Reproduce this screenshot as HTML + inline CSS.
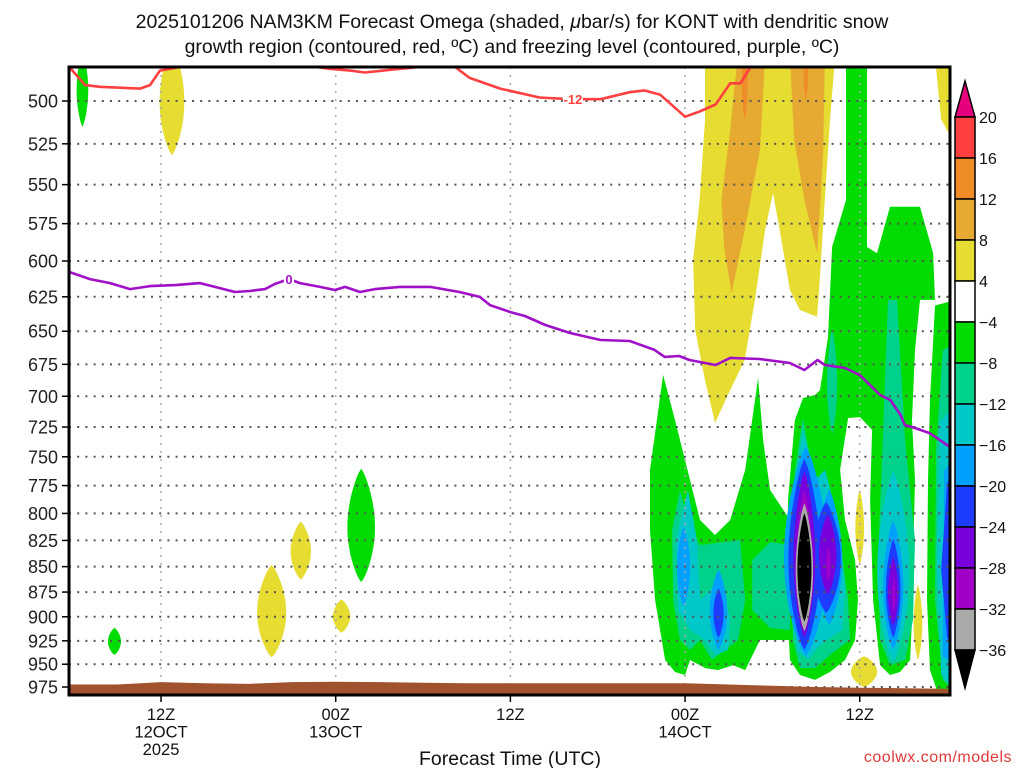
<!DOCTYPE html>
<html><head><meta charset="utf-8">
<style>
html,body{margin:0;padding:0;background:#fff;}
svg{display:block;font-family:"Liberation Sans",sans-serif;}
</style></head>
<body>
<svg id="chart" width="1024" height="768" viewBox="0 0 1024 768" xmlns="http://www.w3.org/2000/svg">
<defs><clipPath id="plotClip"><rect x="69" y="67" width="881" height="628"/></clipPath></defs>
<text x="512" y="28" font-size="19.5" text-anchor="middle" fill="#111">2025101206 NAM3KM Forecast Omega (shaded, <tspan font-style="italic">μ</tspan>bar/s) for KONT with dendritic snow</text>
<text x="512" y="53" font-size="19.5" text-anchor="middle" fill="#111">growth region (contoured, red, ºC) and freezing level (contoured, purple, ºC)</text>
<g id="shade" clip-path="url(#plotClip)"></g>
<g id="grid"></g>
<g id="contours" clip-path="url(#plotClip)"></g>
<g id="ground" clip-path="url(#plotClip)"></g>
<rect x="69" y="67" width="881" height="628" fill="none" stroke="#000" stroke-width="3"/>
<g id="axes"></g>
<g id="cbar"></g>
<text x="510" y="765" font-size="19.5" text-anchor="middle" fill="#111">Forecast Time (UTC)</text>
<text x="1012" y="762" font-size="16" text-anchor="end" fill="#e03a3a" letter-spacing="0.5">coolwx.com/models</text>
</svg>
<script>
// ---- data ----
const pressureTicks=[500,525,550,575,600,625,650,675,700,725,750,775,800,825,850,875,900,925,950,975];
const timeTickHours=[6,18,30,42,54];
const timeTickLine1=["12Z","00Z","12Z","00Z","12Z"];
const timeTickLine2=["12OCT","13OCT","","14OCT",""];
const timeTickLine3=["2025","","","",""];
const cbarLabels=["20","16","12","8","4","−4","−8","−12","−16","−20","−24","−28","−32","−36"];
const cbarColors=["#ff4040","#f08c28","#e6aa32","#e6dc32","#ffffff","#00dc00","#00d28c","#00c8c8","#00a0ff","#1e3cff","#7800dc","#a000c8","#aaaaaa"];
const levelColors={"1":"#e6dc32","2":"#e6aa32","3":"#f08c28","-1":"#00dc00","-2":"#00d28c","-3":"#00c8c8","-4":"#00a0ff","-5":"#1e3cff","-6":"#7800dc","-7":"#a000c8","-8":"#aaaaaa","-9":"#000000"};
// surface pressure every 3 h (0..60)
const sfcHours=[0,3,6,9,12,15,18,21,24,27,30,33,36,39,42,45,48,51,54,57,60];
const sfcPres=[972.2,972.2,969.5,970.8,971.5,969.5,969.2,969.5,970.2,970.8,970.8,970.8,970.8,970.8,970.8,972.2,973.6,975,975.7,976.3,977];
// -12C contour
const m12Hours=[-0.3,0.78,1.8,4.56,5.24,5.93,7.3,8.7,15.6,16.65,17.6,19,20,22.4,23.8,25.2,26.2,27.2,29.3,32,34.1,36.2,38.2,39.2,40.3,42,43,44.1,45.1,45.8,46.5,47.2];
const m12Pres=[481,491,492,493,491,483,481,466,466,481,482,483,484,482,481,473,481,487,493,498,499,499,495,494,496.5,509,506,502,490,490,481,466];
// 0C contour
const frzHours=[-0.3,1.12,2.5,3.87,5.24,7.0,8.68,9.7,11.08,12.11,13.14,13.83,14.79,15.55,16.92,17.95,18.64,19.67,20.7,22.4,24.5,26.5,27.9,28.6,30,31,32.4,34.1,36.2,38.2,39.9,40.6,41.6,42.3,44.1,45.1,47.1,49.2,50.2,51.1,51.6,53,54,54.7,55.4,56.1,56.8,57.1,57.8,58.8,59.5,60.3];
const frzPres=[607.6,612.5,615.3,619.5,617.4,616.7,615.3,618,621.6,620.9,619.5,615.9,612.5,615.3,618,620.2,618,621.6,619.5,618,618,621.6,625.1,630.9,636,638.8,645.4,651.3,656.5,657.3,664,669.3,668.6,671.7,675.5,670.1,670.9,674,679.4,671.7,675.5,677.8,683.3,691,699,703,715,723.3,725.8,730,735.8,742.5];
// lens blobs: [hour, pTop, pBottom, halfWidthHours, level]
const lensBlobs=[
[6.75,469,531.9,0.85,1],[13.6,848.3,942.6,1.0,1],[15.6,807.5,862.7,0.7,1],[18.4,882.4,916.5,0.6,1],
[54.0,778.6,848.3,0.3,1],[58.0,867.6,945.3,0.3,1],[54.3,941.3,975,0.9,1],
[46.1,469,510.7,0.2,3],[50.3,469,500,0.15,3],
[0.6,472.7,515,0.4,-1],[2.8,911.4,940,0.45,-1],[19.75,760.2,865.1,0.95,-1],
[52.1,648.5,730.8,0.35,-2],
[56.3,762.3,947.9,1.1,-3],
[41.9,812.1,889.8,0.45,-4],[44.3,853.1,934.7,0.6,-4],[50.3,741.2,941.3,1.5,-4],[51.9,778.6,908.8,0.9,-4],[56.3,806.4,934.7,0.7,-4],
[44.3,871.3,921.7,0.35,-5],[50.2,751.7,934.7,1.1,-5],[51.7,789.7,896.1,1.0,-5],[56.3,823.6,921.7,0.5,-5],
[50.2,762.3,921.7,0.75,-6],[51.8,800.8,877.4,0.6,-6],[56.3,841.1,908.8,0.35,-6],
[50.2,778.6,908.8,0.55,-7],[51.85,829.4,865.1,0.15,-7],[56.35,859.1,896.1,0.1,-7],[61,817.8,883.6,0.5,-7],
[50.2,790.8,915.2,0.6,-8],
[50.2,799.7,905,0.48,-9]
];
// polygon regions: level, then [hour,pressure] vertices
const polyLevels=[1,1,2,2,-1,-1,-1,-2,-2,-2,-2,-2,-3,-3,-3,-4,-5,-6];
const polyVerts=[
[[43.37,476],[52.3,476],[51.96,510.9],[51.6,559.7],[51.3,606.3],[51.07,639.5],[49.9,634.5],[49.2,620.2],[48.5,579.2],[48.04,555.3],[47.5,579.2],[46.8,627.2],[46.1,671.7],[45.1,695.1],[44.06,721.6],[43.37,687.2],[42.7,649.1],[42.55,599.4],[43.0,559.7],[43.37,510.9]],
[[59.17,476],[61,476],[61,532.6],[59.6,510.7]],
[[45.6,476],[47.5,476],[47.15,528.7],[46.1,579.2],[45.2,622.3],[44.7,592.6],[44.5,559.7],[45.1,516.8]],
[[49.2,476],[51.6,476],[51.5,528.7],[51.3,559.7],[51.07,594.6],[50.2,559.7],[49.5,522.7]],
[[39.59,761.3],[40.49,683.2],[41.31,719.2],[42.34,770.1],[43.03,806],[44.06,819.9],[45.1,806],[46.13,761.3],[47.02,685.5],[47.36,735.8],[47.84,778.9],[49.21,806],[49.21,924.1],[47.15,924.1],[46.13,956.4],[45.3,951.1],[44.26,956.4],[43.37,954.1],[42.34,945.4],[42.0,961.7],[41.31,958.5],[40.63,945.4],[39.94,883],[39.59,815.3]],
[[53.06,476],[54.5,476],[54.5,590.5],[55.19,594.6],[56.08,564.1],[58.14,564.1],[59.04,594.6],[59.17,627.2],[58.14,627.2],[57.8,664],[57.59,719.2],[57.8,770.1],[57.66,843.6],[57.59,903.3],[57.46,945.4],[56.77,958.5],[56.08,961.7],[55.4,951.1],[54.92,883],[54.71,787.8],[54.85,727.4],[54.02,716.8],[53.2,717.6],[52.65,761.3],[52.99,806],[53.68,843.6],[53.88,883],[53.68,924.1],[52.99,945.4],[51.96,958.5],[50.93,967.1],[49.9,961.7],[49.21,945.4],[49.0,883],[49.07,787.8],[49.55,719.2],[50.1,701.4],[50.93,699],[51.27,695.1],[51.82,654.4],[52.1,590.5],[53.06,559.7]],
[[59.17,631.2],[61,626.1],[61,988.7],[59.3,978.5],[58.83,956.4],[58.62,883],[58.69,770.1],[58.83,703.1]],
[[41.65,778.9],[42.34,815.3],[43.03,829.3],[45.78,824.6],[46.13,883],[45.65,924.1],[44.74,934.7],[43.85,945.4],[43.03,924.1],[42.34,934.7],[41.65,924.1],[41.18,883],[41.11,815.3]],
[[46.61,843.6],[47.84,826.5],[49.21,829.3],[49.21,913.7],[47.84,911.6],[46.61,893.1]],
[[50.1,717.6],[50.73,761.3],[51.96,787.8],[52.65,824.6],[53.2,883],[53.33,924.1],[51.96,940.1],[50.93,954.1],[49.9,954.1],[49.41,924.1],[49.21,843.6],[49.55,761.3]],
[[55.94,627.2],[56.56,627.2],[57.12,735.8],[57.8,824.6],[57.66,903.3],[57.12,945.4],[56.08,951.1],[55.4,924.1],[55.26,843.6],[55.53,752.8]],
[[59.7,664.2],[61,656.8],[61,988.7],[59.7,966.7],[59.17,883],[59.24,744.3]],
[[42.2,778.9],[42.82,824.6],[43.03,883],[44.4,863.1],[45.1,903.3],[44.96,934.7],[44.06,940.1],[43.37,924.1],[42.34,913.7],[41.52,893.1],[41.38,824.6]],
[[50.1,727.4],[50.93,770.1],[51.62,761.3],[52.51,806],[52.99,873],[52.79,913.7],[51.27,929.4],[50.45,945.4],[49.69,934.7],[49.41,843.6],[49.69,761.3]],
[[59.5,720.6],[61,700.7],[61,988.7],[59.6,961.3],[59.3,853.1]],
[[59.8,762.3],[61,741.2],[61,954.6],[59.7,941.3]],
[[60,773.1],[61,751.7],[61,941.3],[60,921.7],[59.6,853.1]],
[[60.1,795.2],[61,784.1],[61,915.2],[60.2,902.4]]
];
// ---- axis functions (log-pressure vertical axis) ----
const X0=73.7, XS=14.556, Y0=101, YK=877.5;
function xOf(h){return X0+h*XS;}
function yOf(p){return Y0+YK*Math.log(p/500);}
const NS="http://www.w3.org/2000/svg";
function mk(tag,attrs,parent){const e=document.createElementNS(NS,tag);for(const k in attrs)e.setAttribute(k,attrs[k]);parent.appendChild(e);return e;}
function lensPts(b){const pts=[];const n=24;
 for(let i=0;i<=n;i++){const t=i/n;const p=b[1]+(b[2]-b[1])*t;const w=b[3]*Math.pow(Math.sin(Math.PI*t),0.75);pts.push([b[0]+w,p]);}
 for(let i=n;i>=0;i--){const t=i/n;const p=b[1]+(b[2]-b[1])*t;const w=b[3]*Math.pow(Math.sin(Math.PI*t),0.75);pts.push([b[0]-w,p]);}
 return pts;}
function ptsStr(v){return v.map(q=>xOf(q[0]).toFixed(1)+","+yOf(q[1]).toFixed(1)).join(" ");}
const shade=document.getElementById("shade");
const items=[];
polyVerts.forEach((v,i)=>items.push({lev:polyLevels[i],pts:v}));
lensBlobs.forEach(b=>items.push({lev:b[4],pts:lensPts(b)}));
items.sort((a,b)=>Math.abs(a.lev)-Math.abs(b.lev));
items.forEach(it=>{
 const el=mk("polygon",{points:ptsStr(it.pts),fill:levelColors[String(it.lev)]},shade);
 
 
});
// grid
const grid=document.getElementById("grid");
pressureTicks.forEach(p=>{
 const l=mk("line",{x1:69,x2:950,y1:yOf(p),y2:yOf(p),stroke:"#555","stroke-width":2,"stroke-dasharray":"2 6.2"},grid);
 
 
});
timeTickHours.forEach(h=>{
 const l=mk("line",{x1:xOf(h),x2:xOf(h),y1:67,y2:695,stroke:"#aaa","stroke-width":1.5,"stroke-dasharray":"2 6"},grid);
 
 
});
// contours
const cont=document.getElementById("contours");
function polyline(hs,ps,color,name){
 const s=hs.map((h,i)=>xOf(h).toFixed(1)+","+yOf(ps[i]).toFixed(1)).join(" ");
 const l=mk("polyline",{points:s,fill:"none",stroke:color,"stroke-width":2.6,"stroke-linejoin":"round"},cont);
 
 
}
polyline(m12Hours,m12Pres,"#ff4040","minus12-contour");
polyline(frzHours,frzPres,"#a010c8","freezing-level-contour");
const lb1=mk("rect",{x:xOf(33.6),y:yOf(499)-7,width:20,height:14,fill:"#fff"},cont);


const t1=mk("text",{x:xOf(34.3),y:yOf(499)+5,"font-size":13,"font-weight":"bold",fill:"#ff4040","text-anchor":"middle"},cont);
t1.textContent="-12";


const lb2=mk("rect",{x:xOf(14.79)-5,y:yOf(612.5)-7,width:10,height:14,fill:"#fff"},cont);


const t2=mk("text",{x:xOf(14.79),y:yOf(612.5)+5,"font-size":13,"font-weight":"bold",fill:"#a010c8","text-anchor":"middle"},cont);
t2.textContent="0";


// ground
const ground=document.getElementById("ground");
const gp=sfcHours.map((h,i)=>xOf(h).toFixed(1)+","+yOf(sfcPres[i]).toFixed(1));
gp.unshift(xOf(-1).toFixed(1)+","+yOf(sfcPres[0]).toFixed(1));
gp.push(xOf(61).toFixed(1)+","+yOf(sfcPres[sfcPres.length-1]).toFixed(1));
gp.push("960,700","60,700");
const g=mk("polygon",{points:gp.join(" "),fill:"#a0522d"},ground);


// axes
const axes=document.getElementById("axes");
pressureTicks.forEach(p=>{
 const tk=mk("line",{x1:62,x2:69,y1:yOf(p),y2:yOf(p),stroke:"#000","stroke-width":1.5},axes);
 
 
 const t=mk("text",{x:58,y:yOf(p)+6.5,"font-size":18,"text-anchor":"end",fill:"#222"},axes);
 t.textContent=String(p);
 
 
});
timeTickHours.forEach((h,i)=>{
 const tk=mk("line",{x1:xOf(h),x2:xOf(h),y1:695,y2:702,stroke:"#000","stroke-width":1.5},axes);
 
 
 [timeTickLine1[i],timeTickLine2[i],timeTickLine3[i]].forEach((s,j)=>{
  if(!s)return;
  const t=mk("text",{x:xOf(h),y:720+j*17.5,"font-size":16.5,"text-anchor":"middle",fill:"#111"},axes);
  t.textContent=s;
  
  
 });
});
// colorbar
const cb=document.getElementById("cbar");
const CBX=955, CBW=20, CBTOP=117, CBSTEP=41;
const tri=mk("polygon",{points:`${CBX},${CBTOP} ${CBX+CBW},${CBTOP} ${CBX+CBW/2},${CBTOP-36}`,fill:"#e6007e",stroke:"#000","stroke-width":1.5},cb);


cbarColors.forEach((c,i)=>{
 const r=mk("rect",{x:CBX,y:CBTOP+i*CBSTEP,width:CBW,height:CBSTEP,fill:c,stroke:"#000","stroke-width":1.5},cb);
 
 
});
const yb=CBTOP+cbarColors.length*CBSTEP;
const tri2=mk("polygon",{points:`${CBX},${yb} ${CBX+CBW},${yb} ${CBX+CBW/2},${yb+38}`,fill:"#000",stroke:"#000","stroke-width":1.5},cb);


cbarLabels.forEach((s,i)=>{
 const t=mk("text",{x:979,y:CBTOP+i*CBSTEP+6,"font-size":16,fill:"#111"},cb);
 t.textContent=s;
 
 
});
</script>
</body></html>
